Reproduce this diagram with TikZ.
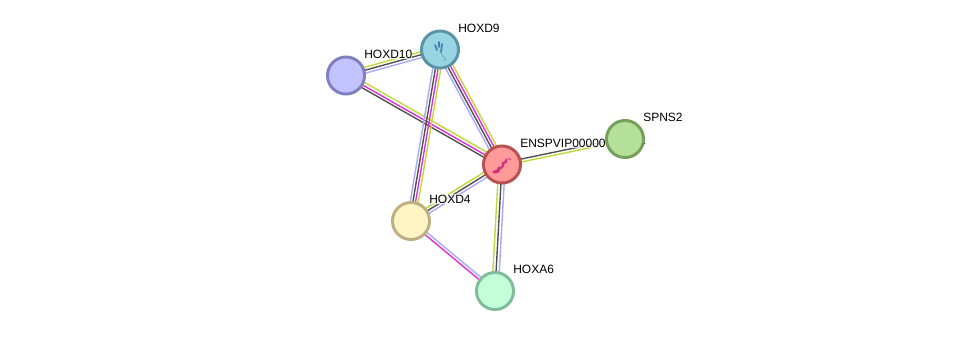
\documentclass[tikz,border=0pt]{standalone}
\usepackage{fontspec}
\setmainfont{Liberation Sans}
\usetikzlibrary{calc}
\pgfdeclarelayer{edges}
\pgfdeclarelayer{labels}
\pgfsetlayers{edges,labels,main}
\definecolor{evNeighbor}{HTML}{C0D838}
\definecolor{evCooccur}{HTML}{505050}
\definecolor{evExperiment}{HTML}{E030D8}
\definecolor{evDatabase}{HTML}{A8A8FF}
\definecolor{ribbonRed}{HTML}{D63080}
\definecolor{ribbonBlue}{HTML}{4A7DB0}
\definecolor{loopBlue}{HTML}{6E96AF}
\tikzset{
  x=0.75pt, y=-0.75pt,
  protein/.style={circle, minimum size=27.8pt, inner sep=0pt, line width=2.2pt},
  plabel/.style={anchor=base west, font=\fontsize{9}{10}\selectfont, text=black,
    fill=white, fill opacity=0.8, text opacity=1, inner xsep=0pt, inner ysep=0.6pt},
  channel/.style={line width=1.05pt}
}
% Parallel evidence channels between two proteins: list of offset/colour pairs
\newcommand{\evidence}[3]{%
  \begin{pgfonlayer}{edges}
  \foreach \off/\col in {#3}{
    \draw[channel, color=\col]
      ($(#1.center)!\off pt!90:(#2.center)$) -- ($(#2.center)!\off pt!-90:(#1.center)$);
  }
  \end{pgfonlayer}%
}
\begin{document}
\begin{tikzpicture}
\useasboundingbox (0,0) rectangle (975,336);

% Proteins
\definecolor{tenLine}{HTML}{8080C0}\definecolor{tenFill}{HTML}{C2C2FF}
\definecolor{nineLine}{HTML}{5A93A3}\definecolor{nineFill}{HTML}{98D4E2}
\definecolor{vipLine}{HTML}{B85050}\definecolor{vipFill}{HTML}{FF9A9A}
\definecolor{spnsLine}{HTML}{75A05A}\definecolor{spnsFill}{HTML}{B5E09A}
\definecolor{fourLine}{HTML}{BDB080}\definecolor{fourFill}{HTML}{FFF4C4}
\definecolor{sixLine}{HTML}{80BC9C}\definecolor{sixFill}{HTML}{C2FFD8}
\node[protein, draw=tenLine, fill=tenFill] (hoxdten) at (346,75.5) {};
\node[protein, draw=nineLine, fill=nineFill] (hoxdnine) at (440,49.5) {};
\node[protein, draw=vipLine, fill=vipFill] (vip) at (502,164.5) {};
\node[protein, draw=spnsLine, fill=spnsFill] (spns) at (625,139) {};
\node[protein, draw=fourLine, fill=fourFill] (hoxdfour) at (411,221) {};
\node[protein, draw=sixLine, fill=sixFill] (hoxasix) at (495,291) {};

% Evidence channels
\evidence{hoxdten}{hoxdnine}{2.2/evNeighbor,0/evCooccur,-2.2/evDatabase}
\evidence{hoxdten}{vip}{2.4/evNeighbor,0/evExperiment,-2/evCooccur}
\evidence{hoxdnine}{hoxdfour}{3/evNeighbor,1/evExperiment,-1/evCooccur,-3/evDatabase}
\evidence{hoxdnine}{vip}{3/evNeighbor,1/evExperiment,-1/evCooccur,-3/evDatabase}
\evidence{vip}{hoxdfour}{-2.2/evNeighbor,0/evCooccur,2.2/evDatabase}
\evidence{vip}{hoxasix}{-2.4/evNeighbor,0/evCooccur,2.4/evDatabase}
\evidence{hoxdfour}{hoxasix}{-1.1/evExperiment,1.1/evDatabase}
\evidence{vip}{spns}{1.1/evCooccur,-1.1/evNeighbor}

% Protein names
\begin{pgfonlayer}{labels}
\node[plabel] (lblten) at (364,58) {HOXD10};
\node[plabel] (lblnine) at (458,32) {HOXD9};
\node[plabel] (lblvip) at (520,147.5) {ENSPVIP00000};
\node[plabel] (lblspns) at (643,121) {SPNS2};
\node[plabel] (lblfour) at (429,203) {HOXD4};
\node[plabel] (lblsix) at (513,273) {HOXA6};
\end{pgfonlayer}

% Structure glyph: helical ribbon
\draw[line width=2.4pt, color=ribbonRed, line cap=round]
  (494,172) .. controls (496,173) and (499,171) .. (499,168);
\draw[line width=1.7pt, color=ribbonRed, line cap=round]
  (499,168) .. controls (501,169) and (504,166) .. (503,163)
  .. controls (505,164) and (507,161) .. (506,160);
\draw[line width=0.5pt, color=ribbonRed]
  (506,160) .. controls (508,158) and (510,158) .. (511,160);

% Structure glyph: helix bundle with a trailing loop
\draw[line width=1.3pt, color=ribbonBlue, line cap=round] (435,45) -- (437,50);
\draw[line width=1.3pt, color=ribbonBlue, line cap=round] (439,42) -- (439,47);
\draw[line width=1.3pt, color=ribbonBlue, line cap=round] (442,44) -- (441,52);
\draw[line width=0.4pt, color=loopBlue]
  (441,52) .. controls (442,56) and (444,57) .. (445,58)
  .. controls (447,60) and (444,62) .. (443,60);

% End of the long identifier, showing past the green protein
\fill[evCooccur] (644.5,143.5) circle (0.7pt);
\end{tikzpicture}
\end{document}
